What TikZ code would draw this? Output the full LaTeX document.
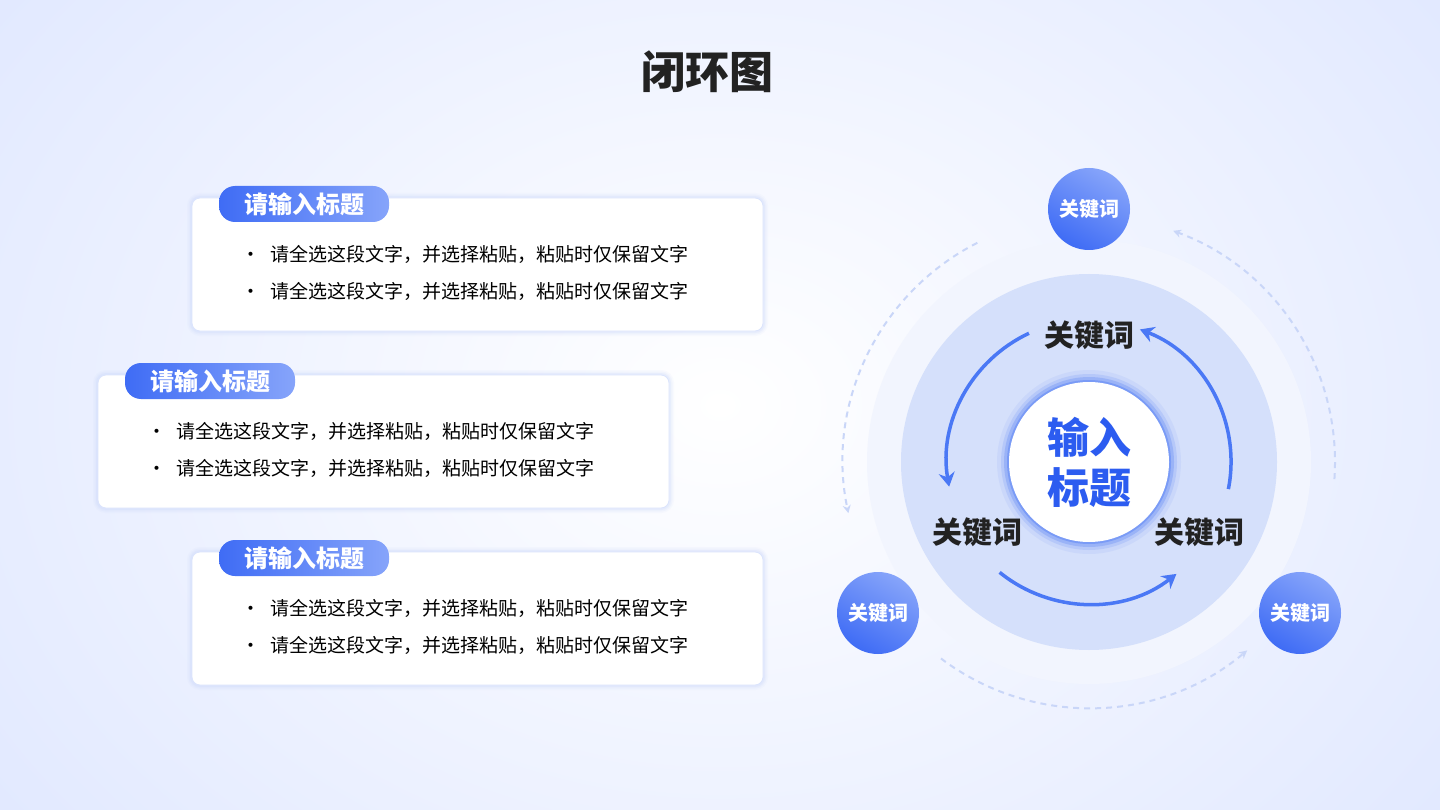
\documentclass[tikz,border=0pt]{standalone}
\usepackage{fontspec}
\setmainfont{Noto Sans CJK SC}
\usetikzlibrary{arrows.meta}
\definecolor{bgb}{HTML}{DFE7FF}
\definecolor{dk}{HTML}{222222}
\definecolor{bA}{HTML}{3F6CF5}
\definecolor{bB}{HTML}{86A4FA}
\definecolor{ring1}{HTML}{F2F5FE}
\definecolor{ring2}{HTML}{D5E0FB}
\definecolor{tb}{HTML}{2C5CF0}
\definecolor{arr}{HTML}{4A78F5}
\definecolor{dsh}{HTML}{C9D6F8}
\definecolor{glow}{HTML}{C3D2FA}
\tikzset{
 tag/.style={rounded corners=16pt,left color=bA,right color=bB,text=white,font=\bfseries\fontsize{24}{24}\selectfont,minimum width=170pt,minimum height=36pt,inner sep=0pt},
 line/.style={anchor=west,font=\fontsize{19}{19}\selectfont,text=black},
 kw/.style={font=\bfseries\fontsize{30}{30}\selectfont,text=dk},
 small/.style={circle,minimum size=82pt,inner sep=0pt,bottom color=bA,top color=bB,shading angle=-30,text=white,font=\bfseries\fontsize{20}{20}\selectfont},
 darr/.style={dsh,line width=2pt,dash pattern=on 6pt off 5pt,-{Stealth[length=8pt,width=8pt]}},
 barr/.style={arr,line width=3.5pt,-{Stealth[length=14pt,width=16pt]}}
}
\begin{document}
\begin{tikzpicture}[x=1pt,y=-1pt]
\useasboundingbox (0,0) rectangle (1440,810);
\begin{scope}
\clip (0,0) rectangle (1440,810);
\shade[inner color=white,outer color=bgb] (-250,-350) rectangle (1690,1160);
\end{scope}
\node[font=\bfseries\fontsize{44}{44}\selectfont,text=dk] (title) at (707,72) {闭环图};
% cards
\foreach \x/\y/\n in {192/198/a,98/375/b,192/552/c}{
 \foreach \w/\o in {10/0.08,7/0.12,4/0.2}{
  \draw[glow,opacity=\o,line width=\w pt,rounded corners=8pt] (\x,\y) rectangle ++(571,133);}
 \fill[white,draw=glow!60,line width=0.8pt,rounded corners=8pt] (\x,\y) rectangle ++(571,133);
 \node[tag] (tag\n) at ({\x+112},{\y+6}) {请输入标题};
 \node[line] (l1\n) at ({\x+46},{\y+56}) {•\hspace{10pt}请全选这段文字，并选择粘贴，粘贴时仅保留文字};
 \node[line] (l2\n) at ({\x+46},{\y+93}) {•\hspace{10pt}请全选这段文字，并选择粘贴，粘贴时仅保留文字};
}
% rings
\coordinate (c) at (1089,462);
\fill[ring1] (c) circle (222);
\fill[ring2] (c) circle (188);
\foreach \r/\o in {92/0.08,88/0.15,85/0.25,82/0.4}{\fill[arr,opacity=\o] (c) circle (\r);}
\node[circle,fill=white,minimum size=160pt,align=center,text=tb,font=\bfseries\fontsize{42}{50}\selectfont] (ctr) at (c) {输入\\标题};
\node[kw] (k1) at (1089,335) {关键词};
\node[kw] (k2) at (977,532) {关键词};
\node[kw] (k3) at (1199,532) {关键词};
% blue arcs
\draw[barr] ([shift={(11:142)}]c) arc (11:-69:142);
\draw[barr] ([shift={(-115:142)}]c) arc (-115:-190:142);
\draw[barr] ([shift={(129:142)}]c) arc (129:52:142);
% dashed arcs
\draw[darr] ([shift={(4:246)}]c) arc (4:-70:246);
\draw[darr] ([shift={(-117:246)}]c) arc (-117:-192:246);
\draw[darr] ([shift={(-233:246)}]c) arc (-233:-310:246);
% small circles
\node[small] (s1) at (1089,209) {关键词};
\node[small] (s2) at (878,613) {关键词};
\node[small] (s3) at (1300,613) {关键词};
\end{tikzpicture}
\end{document}
